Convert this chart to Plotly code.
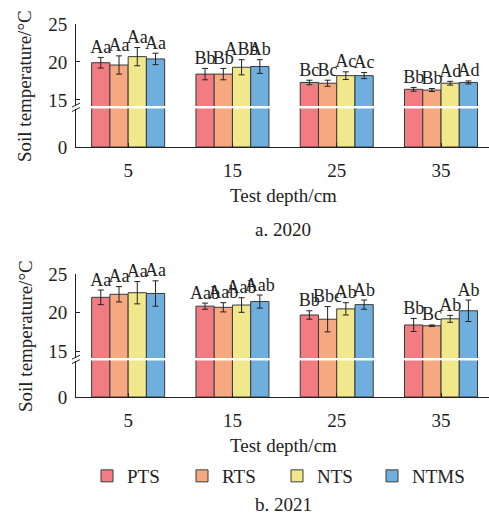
import plotly.graph_objects as go

depths = ["5", "15", "25", "35"]
treatments = ["PTS", "RTS", "NTS", "NTMS"]
colors = ["#F27C81", "#F6A880", "#F0E88B", "#70AEDE"]

# 2020
mean_2020 = {
    "PTS": [19.9, 18.4, 17.3, 16.4],
    "RTS": [19.6, 18.4, 17.2, 16.3],
    "NTS": [20.7, 19.3, 18.2, 17.2],
    "NTMS": [20.4, 19.4, 18.2, 17.3],
}
err_2020 = {
    "PTS": [0.7, 0.75, 0.3, 0.25],
    "RTS": [1.2, 0.75, 0.4, 0.2],
    "NTS": [1.2, 1.0, 0.5, 0.25],
    "NTMS": [0.75, 0.9, 0.4, 0.2],
}
lab_2020 = {
    "PTS": ["Aa", "Bb", "Bc", "Bb"],
    "RTS": ["Aa", "Bb", "Bc", "Bb"],
    "NTS": ["Aa", "ABb", "Ac", "Ad"],
    "NTMS": ["Aa", "Ab", "Ac", "Ad"],
}
# 2021
mean_2021 = {
    "PTS": [22.0, 20.85, 19.7, 18.4],
    "RTS": [22.4, 20.7, 19.15, 18.3],
    "NTS": [22.6, 21.0, 20.5, 19.2],
    "NTMS": [22.5, 21.45, 21.05, 20.25],
}
err_2021 = {
    "PTS": [0.95, 0.4, 0.55, 0.85],
    "RTS": [1.0, 0.6, 1.65, 0.1],
    "NTS": [1.45, 0.95, 0.8, 0.45],
    "NTMS": [1.65, 0.85, 0.6, 1.4],
}
lab_2021 = {
    "PTS": ["Aa", "Aab", "Bb", "Bb"],
    "RTS": ["Aa", "Aab", "Bbc", "Bc"],
    "NTS": ["Aa", "Aab", "Ab", "Ab"],
    "NTMS": ["Aa", "Aab", "Ab", "Ab"],
}

FONT = "Liberation Serif, Times New Roman, serif"
H = 517.0
W = 489.0

def py(px):
    return 1 - px / H

fig = go.Figure()

panels = [
    (mean_2020, err_2020, lab_2020, "x", "y", "y2", True),
    (mean_2021, err_2021, lab_2021, "x2", "y3", "y4", False),
]

for means, errs, labs, xa, yu, yl, sl in panels:
    for t, c in zip(treatments, colors):
        fig.add_trace(go.Bar(
            x=depths, y=means[t], name=t, marker=dict(color=c, line=dict(color="#3a3a3a", width=1)),
            error_y=dict(type="data", array=errs[t], color="#222", thickness=1, width=3),
            xaxis=xa, yaxis=yu, offsetgroup=t, showlegend=sl, legendgroup=t,
        ))
        fig.add_trace(go.Bar(
            x=depths, y=means[t], name=t, marker=dict(color=c, line=dict(color="#3a3a3a", width=1)),
            xaxis=xa, yaxis=yl, offsetgroup=t, showlegend=False, legendgroup=t,
        ))
        fig.add_trace(go.Scatter(
            x=depths, y=[m + e for m, e in zip(means[t], errs[t])], text=labs[t],
            mode="text", textposition="top center", cliponaxis=False,
            textfont=dict(family=FONT, size=18, color="#222"),
            xaxis=xa, yaxis=yu, offsetgroup=t, showlegend=False, hoverinfo="skip",
        ))

xdom = [76 / W, 1.0]
common_x = dict(
    domain=xdom, type="category", range=[-0.5, 3.46], showline=True, linecolor="#222", linewidth=1,
    ticks="inside", ticklen=4, tickcolor="#222", showgrid=False,
    tickfont=dict(family=FONT, size=19, color="#222"), ticklabelstandoff=6,
)
common_y = dict(
    showline=True, linecolor="#222", linewidth=1, ticks="inside", ticklen=4, tickcolor="#222",
    showgrid=False, zeroline=False, tickfont=dict(family=FONT, size=19, color="#222"),
    ticklabelstandoff=4,
)

fig.update_layout(
    width=489, height=517, margin=dict(l=0, r=0, t=0, b=0, pad=0, autoexpand=False),
    plot_bgcolor="white", paper_bgcolor="white",
    barmode="group", bargap=0.3, bargroupgap=0,
    scattermode="group", scattergap=0.3,
    xaxis=dict(anchor="y2", **common_x),
    xaxis2=dict(anchor="y4", **common_x),
    yaxis=dict(anchor="x", domain=[py(106), py(24)], range=[14.2, 25], tickvals=[15, 20, 25], **common_y),
    yaxis2=dict(anchor="x", domain=[py(147), py(108.5)], range=[0, 14], tickvals=[0], **common_y),
    yaxis3=dict(anchor="x2", domain=[py(358), py(274.3)], range=[14.1, 25], tickvals=[15, 20, 25], **common_y),
    yaxis4=dict(anchor="x2", domain=[py(397), py(360.5)], range=[0, 14], tickvals=[0], **common_y),
    legend=dict(
        orientation="h", x=87 / W, xanchor="left", y=py(476), yanchor="middle",
        font=dict(family=FONT, size=19, color="#222"), entrywidthmode="pixels", entrywidth=50,
        bgcolor="rgba(0,0,0,0)", traceorder="normal",
    ),
    showlegend=True,
)

ann = [
    dict(text="Soil temperature/°C", x=25 / W, y=py(86), textangle=-90),
    dict(text="Soil temperature/°C", x=25 / W, y=py(336), textangle=-90),
    dict(text="Test depth/cm", x=283 / W, y=py(195)),
    dict(text="a. 2020", x=283 / W, y=py(230)),
    dict(text="Test depth/cm", x=283 / W, y=py(445)),
    dict(text="b. 2021", x=283 / W, y=py(504)),
]
for a in ann:
    fig.add_annotation(xref="paper", yref="paper", showarrow=False, xanchor="center", yanchor="middle",
                       font=dict(family=FONT, size=19, color="#222"), **a)

for yb in (107.3, 359.4):
    for dy in (-2.2, 2.2):
        fig.add_shape(type="line", xref="paper", yref="paper",
                      x0=72 / W, x1=80 / W, y0=py(yb + dy + 2), y1=py(yb + dy - 2),
                      line=dict(color="#222", width=1))

fig.write_html("out.html")
